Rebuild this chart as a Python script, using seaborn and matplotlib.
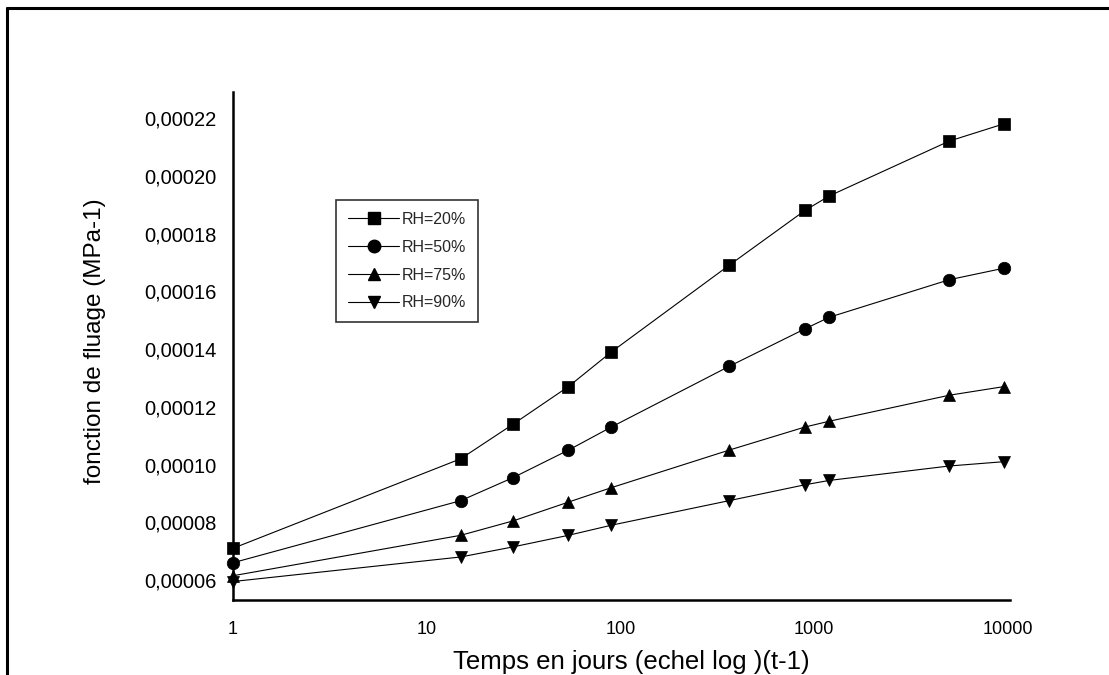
import matplotlib
matplotlib.use("Agg")
import matplotlib.pyplot as plt
import numpy as np
import pandas as pd
import seaborn as sns
from matplotlib.lines import Line2D
from matplotlib.ticker import FuncFormatter, MultipleLocator, LogLocator, NullFormatter, FixedLocator

# Creep compliance versus time for four relative humidity levels
days = [1, 15, 28, 54, 90, 365, 900, 1200, 5000, 9600]
rh20 = [7.1e-5, 1.02e-4, 1.14e-4, 1.27e-4, 1.39e-4, 1.69e-4, 1.88e-4, 1.93e-4, 2.12e-4, 2.18e-4]
rh50 = [6.6e-5, 8.75e-5, 9.55e-5, 1.05e-4, 1.13e-4, 1.34e-4, 1.47e-4, 1.51e-4, 1.64e-4, 1.68e-4]
rh75 = [6.15e-5, 7.55e-5, 8.05e-5, 8.7e-5, 9.2e-5, 1.05e-4, 1.13e-4, 1.15e-4, 1.24e-4, 1.27e-4]
rh90 = [5.95e-5, 6.8e-5, 7.15e-5, 7.55e-5, 7.9e-5, 8.75e-5, 9.3e-5, 9.45e-5, 9.95e-5, 1.01e-4]

series_labels = ["RH=20%", "RH=50%", "RH=75%", "RH=90%"]
series_values = [rh20, rh50, rh75, rh90]
series_markers = ["s", "o", "^", "v"]

x_ticks = [1, 10, 100, 1000, 10000]
x_tick_labels = ["1", "10", "100", "1000", "10000"]

xlabel = "Temps en jours (echel log )(t-1)"
ylabel = "fonction de fluage (MPa-1)"

sns.set_theme(style="white")
plt.rcParams["font.family"] = ["Liberation Sans", "DejaVu Sans"]

W, H = 1109, 675
fig = plt.figure(figsize=(W / 100, H / 100), dpi=100)
fig.patch.set_facecolor("white")

left, right, top, bottom = 233, 1010, 92, 600
ax = fig.add_axes([left / W, 1 - bottom / H, (right - left) / W, (bottom - top) / H])

frames = []
for lab, vals in zip(series_labels, series_values):
    frames.append(pd.DataFrame({"days": days, "compliance": vals, "serie": lab}))
df = pd.concat(frames, ignore_index=True)

handles = []
for lab, mk in zip(series_labels, series_markers):
    sub = df[df["serie"] == lab]
    sns.lineplot(data=sub, x="days", y="compliance", ax=ax, color="black",
                 linewidth=0.8, marker=mk, markersize=9, markeredgecolor="black",
                 markerfacecolor="black", markeredgewidth=0.5, legend=False,
                 clip_on=False, zorder=3)
    handles.append(Line2D([], [], color="black", linewidth=0.8, marker=mk,
                          markersize=9, markerfacecolor="black",
                          markeredgecolor="black", label=lab))

ax.set_xscale("log")
ax.set_xlim(1, 10300)
ax.set_ylim(0.0000531, 0.000229)

ax.xaxis.set_major_locator(FixedLocator(x_ticks))
ax.set_xticklabels(x_tick_labels)
ax.xaxis.set_minor_locator(LogLocator(base=10, subs=np.arange(2, 10)))
ax.xaxis.set_minor_formatter(NullFormatter())

ax.yaxis.set_major_locator(MultipleLocator(0.00002))
ax.yaxis.set_minor_locator(MultipleLocator(0.00001))
ax.yaxis.set_major_formatter(FuncFormatter(lambda v, p: f"{v:.5f}".replace(".", ",")))

for side in ["top", "right"]:
    ax.spines[side].set_visible(False)
for side in ["left", "bottom"]:
    ax.spines[side].set_linewidth(1.8)
    ax.spines[side].set_color("black")

ax.tick_params(axis="both", which="major", direction="out", length=7, width=1.5,
               color="black", labelcolor="black", pad=5)
ax.tick_params(axis="both", which="minor", direction="out", length=4, width=1.2,
               color="black")
ax.tick_params(axis="x", which="major", labelsize=13, pad=8)
ax.tick_params(axis="y", which="major", labelsize=14.5, pad=5)

ax.set_xlabel(xlabel, fontsize=18.5, color="black")
ax.set_ylabel(ylabel, fontsize=17.5, color="black")
ax.xaxis.set_label_coords(0.513, -0.098)
ax.yaxis.set_label_coords(-0.164, 0.51)
ax.grid(False)

leg = ax.legend(handles=handles, loc="upper left",
                bbox_to_anchor=((336 - left) / (right - left), 1 - (200 - top) / (bottom - top)),
                frameon=True, fancybox=False, fontsize=11.5,
                handlelength=3.2, handletextpad=0.15, labelspacing=0.8,
                borderpad=0.75, borderaxespad=0.0)
leg.get_frame().set_edgecolor("black")
leg.get_frame().set_linewidth(1.2)

# page frame lines (left and top)
fig.add_artist(Line2D([7 / W, 7 / W], [0, 1 - 8 / H], color="black", linewidth=2.2,
                      transform=fig.transFigure))
fig.add_artist(Line2D([7 / W, 1], [1 - 8 / H, 1 - 8 / H], color="black", linewidth=2.2,
                      transform=fig.transFigure))

fig.savefig("out.png", dpi=100, facecolor="white")
